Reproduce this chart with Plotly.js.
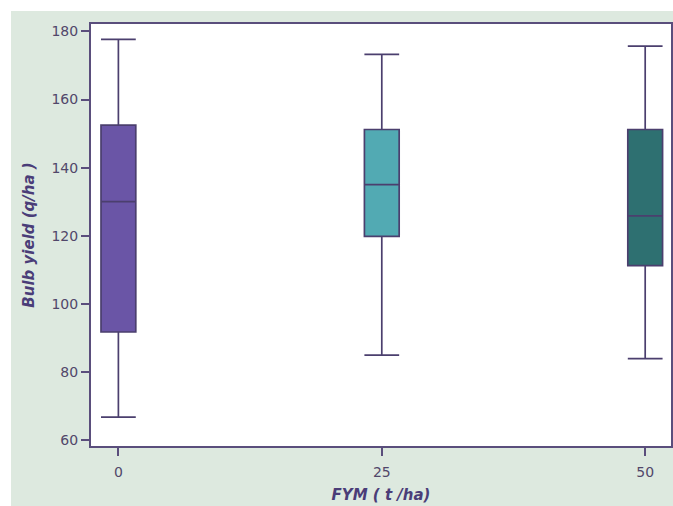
<!DOCTYPE html>
<html>
<head>
<meta charset="utf-8">
<script src="https://cdn.plot.ly/plotly-3.0.1.min.js"></script>
<style>html,body{margin:0;padding:0;background:#fff;}</style>
</head>
<body>
<div id="chart" style="width:673px;height:506px;"></div>
<script>
const categories = [0, 25, 50];
const lowerWhisker = [66.7, 84.9, 83.9];
const q1Values = [91.7, 119.8, 111.2];
const medianValues = [130.0, 135.0, 125.8];
const q3Values = [152.5, 151.2, 151.2];
const upperWhisker = [177.7, 173.3, 175.7];
const fillColors = ['#6a55a6', '#52aab3', '#2e7071'];
const yTicks = [60, 80, 100, 120, 140, 160, 180];

const lineColor = '#4b3f6e';
const traces = categories.map((c, i) => ({
  type: 'box',
  x: [c],
  q1: [q1Values[i]],
  median: [medianValues[i]],
  q3: [q3Values[i]],
  lowerfence: [lowerWhisker[i]],
  upperfence: [upperWhisker[i]],
  width: 3.3,
  whiskerwidth: 1,
  fillcolor: fillColors[i],
  line: {color: lineColor, width: 1.7},
  boxpoints: false,
  showlegend: false,
  hoverinfo: 'none'
}));

const axisFont = {family: 'DejaVu Sans', size: 14, color: '#51476a'};
const titleFont = {family: 'DejaVu Sans', size: 15, color: '#4a3d78', weight: 'bold', style: 'italic'};

const layout = {
  width: 673, height: 506,
  margin: {l: 91, r: 2, t: 24, b: 60},
  paper_bgcolor: '#dde9df',
  plot_bgcolor: '#ffffff',
  xaxis: {
    range: [-2.6, 52.45],
    tickvals: categories,
    ticktext: categories.map(String),
    ticks: 'outside', ticklen: 8, tickwidth: 2, tickcolor: '#5a4e7c',
    ticklabelstandoff: 4,
    showline: true, linecolor: '#5a4e7c', linewidth: 2, mirror: true,
    showgrid: false, zeroline: false,
    tickfont: axisFont,
    title: {text: 'FYM ( t /ha)', font: titleFont, standoff: 11}
  },
  yaxis: {
    range: [58.2, 182.2],
    tickvals: yTicks,
    ticks: 'outside', ticklen: 8, tickwidth: 2, tickcolor: '#5a4e7c',
    showline: true, linecolor: '#5a4e7c', linewidth: 2, mirror: true,
    showgrid: false, zeroline: false,
    tickfont: axisFont,
    title: {text: 'Bulb yield (q/ha )', font: titleFont, standoff: 13}
  },
  shapes: [
    {type: 'rect', xref: 'paper', yref: 'paper', x0: -0.2, x1: 1.1, y0: 1 + 13/422, y1: 1.2, fillcolor: '#ffffff', line: {width: 0}, layer: 'below'},
    {type: 'rect', xref: 'paper', yref: 'paper', x0: -0.2, x1: -80/580, y0: -0.2, y1: 1.2, fillcolor: '#ffffff', line: {width: 0}, layer: 'below'}
  ]
};

Plotly.newPlot('chart', traces, layout, {displayModeBar: false, staticPlot: true});
</script>
</body>
</html>
